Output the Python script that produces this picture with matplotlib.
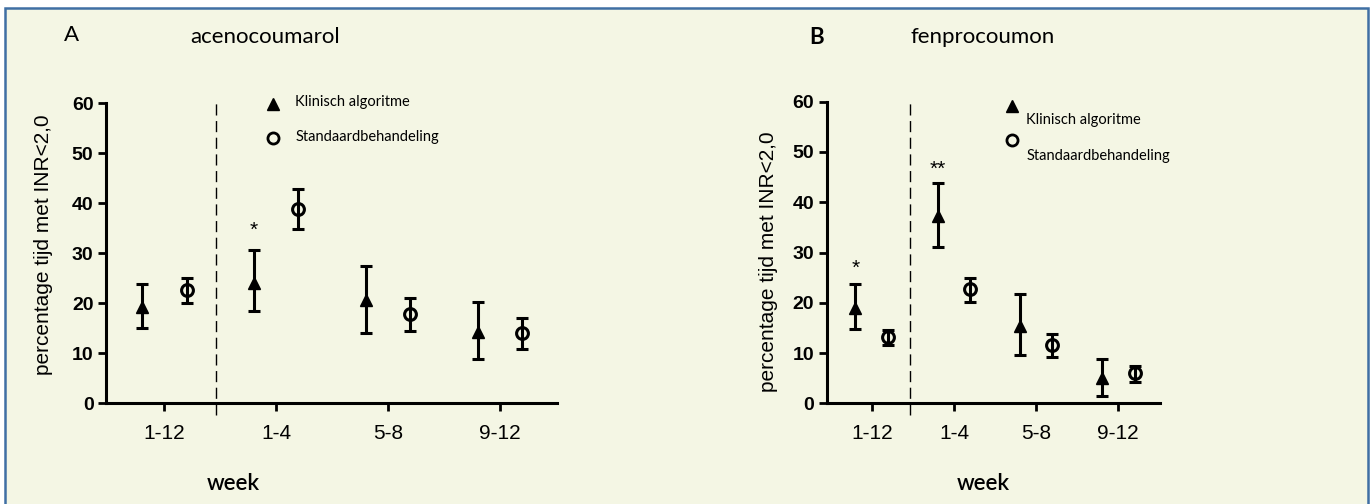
import matplotlib
matplotlib.use("Agg")
import matplotlib.pyplot as plt
import numpy as np
from matplotlib.patches import Rectangle

weeks = ['1-12', '1-4', '5-8', '9-12']

# acenocoumarol (A)
aceno_klin = [19.3, 24.1, 20.7, 14.2]
aceno_klin_hi = [23.8, 30.7, 27.5, 20.2]
aceno_klin_lo = [15.0, 18.5, 14.1, 8.8]
aceno_std = [22.7, 38.8, 17.8, 14.0]
aceno_std_hi = [25.0, 42.9, 21.1, 17.1]
aceno_std_lo = [20.0, 34.9, 14.5, 10.9]

# fenprocoumon (B)
fenpro_klin = [18.9, 37.2, 15.4, 5.0]
fenpro_klin_hi = [23.7, 43.8, 21.7, 8.8]
fenpro_klin_lo = [14.8, 31.1, 9.6, 1.5]
fenpro_std = [13.1, 22.7, 11.6, 6.0]
fenpro_std_hi = [14.6, 25.0, 13.8, 7.4]
fenpro_std_lo = [11.5, 20.2, 9.3, 4.3]

bg = '#f4f6e4'
border = '#3f6fa4'
sans = ['Liberation Sans', 'DejaVu Sans']
narrow = ['Liberation Sans Narrow', 'Liberation Sans', 'DejaVu Sans']
calib = ['Lato', 'DejaVu Sans']

fig = plt.figure(figsize=(13.71, 5.04), dpi=100)
fig.patch.set_facecolor('white')
# panel background with blue border
fig.patches.append(Rectangle((4.5 / 1371, -0.05), (1368 - 4.5) / 1371, 1.05 - 8 / 504,
                             transform=fig.transFigure, facecolor=bg,
                             edgecolor=border, linewidth=1.8, zorder=-10))


def panel(ax, klin, klin_hi, klin_lo, std, std_hi, std_lo, xlim, stars, ylab_xy):
    x = np.arange(len(weeks))
    ax.set_facecolor('none')
    ax.errorbar(x - 0.2, klin, yerr=[np.array(klin) - np.array(klin_lo), np.array(klin_hi) - np.array(klin)],
                fmt='^', color='black', ms=8.5, elinewidth=2.2, capsize=4.5, capthick=2.2, clip_on=False)
    ax.errorbar(x + 0.2, std, yerr=[np.array(std) - np.array(std_lo), np.array(std_hi) - np.array(std)],
                fmt='o', color='black', mfc='none', mec='black', mew=2.2, ms=8.5,
                elinewidth=2.2, capsize=4.5, capthick=2.2, clip_on=False)
    for xi, yi, s in stars:
        ax.text(xi, yi, s, ha='center', va='center', fontsize=15, family=sans)
    ax.set_xlim(*xlim)
    ax.set_ylim(0, 60)
    ax.set_yticks([0, 10, 20, 30, 40, 50, 60])
    ax.set_xticks(x)
    ax.set_xticklabels(weeks, family=sans, fontsize=15)
    for lab in ax.get_yticklabels():
        lab.set_family(narrow)
        lab.set_fontsize(14)
        lab.set_fontweight('bold')
    for s in ['top', 'right']:
        ax.spines[s].set_visible(False)
    for s in ['left', 'bottom']:
        ax.spines[s].set_linewidth(2.2)
    ax.tick_params(axis='both', width=2, length=6, pad=3)
    ax.tick_params(axis='x', pad=9)
    ax.set_ylabel('percentage tijd met INR<2,0', family=sans, fontsize=15)
    ax.yaxis.set_label_coords(*ylab_xy)
    ax.axvline(0.46, ymin=-0.04, ymax=1.0, color='black', lw=1, dashes=(8, 4), clip_on=False)


axA = fig.add_axes([106 / 1371, 1 - 403.3 / 504, (557 - 106) / 1371, 300 / 504])
panel(axA, aceno_klin, aceno_klin_hi, aceno_klin_lo, aceno_std, aceno_std_hi, aceno_std_lo,
      (-0.52, 3.51), [(0.8, 34.5, '*')], (-0.118, 0.53))
axA.plot([0.97], [59.9], '^', color='black', ms=8, clip_on=False)
axA.plot([0.97], [53.1], 'o', mfc='none', mec='black', mew=2, ms=8, clip_on=False)
axA.text(1.17, 60.3, 'Klinisch algoritme', family=calib, fontsize=10.5, va='center')
axA.text(1.17, 53.3, 'Standaardbehandeling', family=calib, fontsize=10.5, va='center')

axB = fig.add_axes([826.7 / 1371, 1 - 403.3 / 504, (1160 - 826.7) / 1371, 301.6 / 504])
panel(axB, fenpro_klin, fenpro_klin_hi, fenpro_klin_lo, fenpro_std, fenpro_std_hi, fenpro_std_lo,
      (-0.55, 3.51), [(-0.2, 26.8, '*'), (0.8, 46.6, '**')], (-0.145, 0.47))
axB.plot([1.71], [59.1], '^', color='black', ms=8, clip_on=False)
axB.plot([1.71], [52.4], 'o', mfc='none', mec='black', mew=2, ms=8, clip_on=False)
axB.text(1.88, 56.4, 'Klinisch algoritme', family=calib, fontsize=10.5, va='center')
axB.text(1.88, 49.1, 'Standaardbehandeling', family=calib, fontsize=10.5, va='center')

# titles and labels
fig.text(72 / 1371, 1 - 35 / 504, 'A', family=calib, fontsize=16, ha='center', va='center')
fig.text(265 / 1371, 1 - 37 / 504, 'acenocoumarol', family=calib, fontsize=16, ha='center', va='center')
fig.text(817 / 1371, 1 - 37 / 504, 'B', family=calib, fontsize=16, ha='center', va='center',
         fontweight='bold')
fig.text(983 / 1371, 1 - 37 / 504, 'fenprocoumon', family=calib, fontsize=16, ha='center', va='center')
fig.text(233 / 1371, 1 - 484 / 504, 'week', family=calib, fontsize=16, ha='center', va='center',
         fontweight='semibold')
fig.text(983 / 1371, 1 - 484 / 504, 'week', family=calib, fontsize=16, ha='center', va='center',
         fontweight='semibold')

fig.savefig('out.png', dpi=100, facecolor=fig.get_facecolor())
